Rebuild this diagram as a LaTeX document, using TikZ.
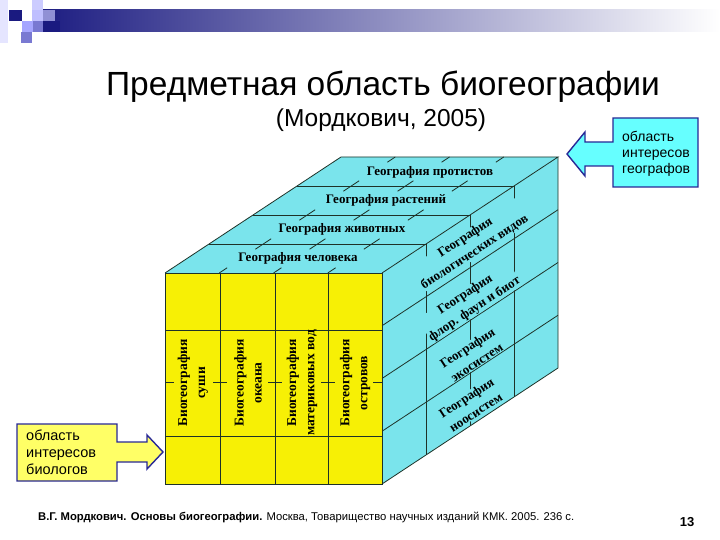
\documentclass[tikz,border=0pt]{standalone}
\usepackage{fontspec}
\setmainfont{Liberation Serif}
\newfontfamily\arialf{Liberation Sans}
\usepackage{graphicx}
\definecolor{navybar}{RGB}{26,26,128}
\definecolor{cubecyan}{RGB}{122,228,236}
\definecolor{cubeyellow}{RGB}{247,240,5}
\definecolor{callyellow}{RGB}{255,255,102}
\definecolor{callcyan}{RGB}{102,255,255}
\definecolor{callborder}{RGB}{40,40,150}
\definecolor{gridclr}{RGB}{30,50,40}
\tikzset{
  gridline/.style={draw=gridclr, line width=0.8pt},
  topname/.style={font=\fontsize{13}{15}\selectfont\bfseries, inner sep=0pt},
  sidename/.style={font=\fontsize{13}{17}\selectfont\bfseries, align=center, rotate=33.4, fill=cubecyan, inner sep=0.3pt},
  frontname/.style={font=\fontsize{13.5}{18}\selectfont\bfseries, align=center, rotate=90, inner sep=0pt},
  callout/.style={draw=callborder, line width=1.4pt, line join=miter},
  calltext/.style={font=\arialf\fontsize{14.5}{17}\selectfont, align=left, inner sep=0pt, anchor=west}
}
\begin{document}
\begin{tikzpicture}[x=1pt,y=-1pt]
\useasboundingbox (0,0) rectangle (720,540);
\fill[white] (0,0) rectangle (720,540);
% header decoration
\shade[left color=navybar, right color=white] (32,10) rectangle (720,32);
\fill[navybar] (43,21) rectangle (60,32);
\fill[blue!10!white] (0,0) rectangle (8,43);
\fill[navybar] (9,10) rectangle (22,21);
\fill[blue!20!white] (32,0) rectangle (43,10);
\fill[blue!25!white] (32,10) rectangle (43,21);
\fill[blue!45!gray!60!white] (43,10) rectangle (55,21);
\fill[blue!35!white] (22,21) rectangle (33,32);
\fill[blue!50!gray!70!white] (33,21) rectangle (43,32);
\fill[blue!50!gray!70!white] (21,32) rectangle (32,43);
% title
\node[font=\arialf\fontsize{33.5}{38}\selectfont, anchor=base, inner sep=0pt] (title) at (383,96) {Предметная область биогеографии};
\node[font=\arialf\fontsize{24.5}{28}\selectfont, anchor=base, inner sep=0pt] (subtitle) at (381,127) {(Мордкович, 2005)};
% cube faces
\fill[cubecyan] (165,273) -- (382,273) -- (558,157) -- (341,157) -- cycle;
\fill[cubecyan] (382,273) -- (558,157) -- (558,368) -- (382,484) -- cycle;
\fill[cubeyellow] (165,273) rectangle (382,484);
% top face strips
\foreach \k in {1,2,3}{
  \draw[gridline] ({165+44*\k},{273-29*\k}) -- ({382+44*\k},{273-29*\k});
}
% top face ticks
\foreach \k in {0,...,4}{
  \foreach \i in {1,2,3}{
    \pgfmathsetmacro{\ta}{max(0,\k/4-0.045)}
    \pgfmathsetmacro{\tb}{min(1,\k/4+0.045)}
    \draw[gridline] ({165+54.25*\i+176*\ta},{273-116*\ta}) -- ({165+54.25*\i+176*\tb},{273-116*\tb});
  }
}
% right face
\foreach \s in {1,2,3}{
  \draw[gridline] (382,{273+52.75*\s}) -- (558,{157+52.75*\s});
}
\foreach \t in {1,2,3}{
  \draw[gridline] ({382+44*\t},{273-29*\t}) -- ({382+44*\t},{484-29*\t});
}
% front face
\foreach \x in {220,275,328}{
  \draw[gridline] (\x,273) -- (\x,484);
}
\draw[gridline] (165,330) -- (382,330);
\draw[gridline] (165,436) -- (382,436);
\draw[gridline] (165,382) -- (174,382);
\draw[gridline] (373,382) -- (382,382);
\foreach \x in {220,275,328}{
  \draw[gridline] ({\x-7},382) -- ({\x+7},382);
}
% outlines
\draw[gridline] (165,273) -- (382,273) -- (382,484) -- (165,484) -- cycle;
\draw[gridline] (165,273) -- (341,157) -- (558,157) -- (382,273);
\draw[gridline] (558,157) -- (558,368) -- (382,484);
% top face labels
\node[topname] (protist) at (430,172) {География протистов};
\node[topname] (plants) at (386,200) {География растений};
\node[topname] (animals) at (342,229) {География животных};
\node[topname] (human) at (298,258) {География человека};
% right face labels
\node[sidename] (species) at (470,245) {География\\биологических видов};
\node[sidename] (biota) at (470,302) {География\\флор. фаун и биот};
\node[sidename] (ecosys) at (472,355) {География\\экосистем};
\node[sidename] (noosys) at (471,405) {География\\ноосистем};
% front face labels
\node[frontname] (land) at (193,383) {Биогеография\\суши};
\node[frontname] (ocean) at (248,383) {Биогеография\\океана};
\node[frontname] (fresh) at (302,383) {Биогеография\\материковых вод};
\node[frontname] (islands) at (355,383) {Биогеография\\островов};
% callouts
\draw[callout, fill=callyellow] (17,424) -- (117,424) -- (117,442) -- (147,442) -- (147,435) -- (163,452) -- (147,469) -- (147,462) -- (117,462) -- (117,481) -- (17,481) -- cycle;
\node[calltext] (biolog) at (26,452) {область\\интересов\\биологов};
\draw[callout, fill=callcyan] (613,118) -- (698,118) -- (698,187) -- (613,187) -- (613,166) -- (585,166) -- (585,176) -- (567,154) -- (585,132) -- (585,142) -- (613,142) -- cycle;
\node[calltext, font=\arialf\fontsize{14}{16}\selectfont] (geogr) at (622,154) {область\\интересов\\географов};
% footer
\node[anchor=base west, inner sep=0pt] (ref) at (38,520) {\resizebox{536pt}{!}{\arialf\fontsize{10}{12}\selectfont\textbf{В.Г. Мордкович. Основы биогеографии.} Москва, Товарищество научных изданий КМК. 2005. 236 с.}};
\node[anchor=base, inner sep=0pt, font=\arialf\fontsize{13}{15}\selectfont\bfseries] (pagenum) at (687,526) {13};
\end{tikzpicture}
\end{document}
